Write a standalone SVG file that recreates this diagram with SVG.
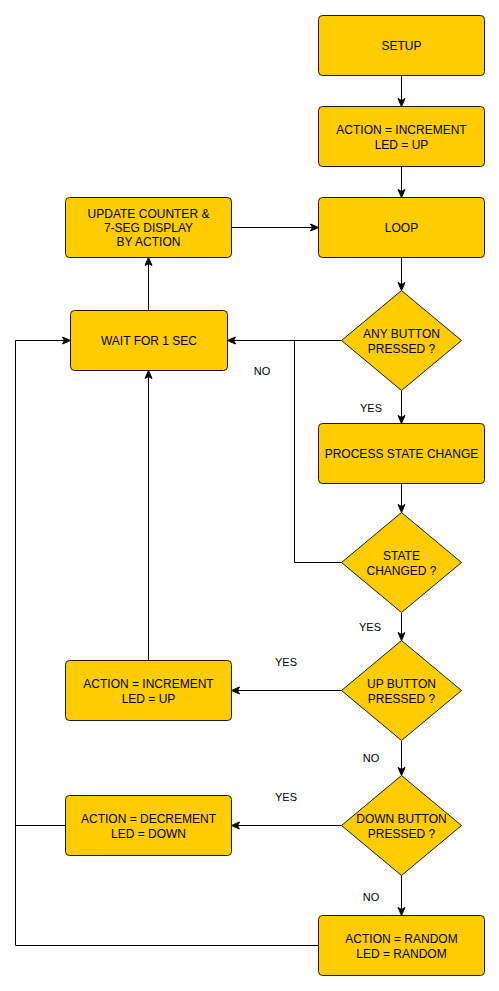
<svg xmlns="http://www.w3.org/2000/svg" width="499" height="991" viewBox="0 0 499 991">
<style>
.n{fill:#FFCC00;stroke:#1a1a1a;stroke-width:1}
.t{font-family:"Liberation Sans",Arial,sans-serif;font-size:12px;fill:#000;text-anchor:middle}
.l{font-family:"Liberation Sans",Arial,sans-serif;font-size:11px;fill:#000;text-anchor:middle}
.e{fill:none;stroke:#000;stroke-width:1}
</style>
<defs>
<marker id="a" markerUnits="userSpaceOnUse" markerWidth="10" markerHeight="10" refX="9" refY="5" orient="auto">
<path d="M1,1.5 L9,5 L1,8.5 L3,5 Z" fill="#000" stroke="#000" stroke-width="1"/>
</marker>
</defs>
<rect width="499" height="991" fill="#fff"/>
<g id="connectors">
<path class="e" d="M401.5,75.5 V106.5" marker-end="url(#a)"/>
<path class="e" d="M401.5,166.5 V197.5" marker-end="url(#a)"/>
<path class="e" d="M401.5,257.5 V290.5" marker-end="url(#a)"/>
<path class="e" d="M341.5,340.5 H227.5" marker-end="url(#a)"/>
<path class="e" d="M401.5,390.5 V423.5" marker-end="url(#a)"/>
<path class="e" d="M401.5,483.5 V512.5" marker-end="url(#a)"/>
<path class="e" d="M341.5,562.5 H294.5 V340.5"/>
<path class="e" d="M401.5,612.5 V640.5" marker-end="url(#a)"/>
<path class="e" d="M341.5,690.5 H231.5" marker-end="url(#a)"/>
<path class="e" d="M148.5,660.5 V370.5" marker-end="url(#a)"/>
<path class="e" d="M148.5,310.5 V257.5" marker-end="url(#a)"/>
<path class="e" d="M231.5,227.5 H318.5" marker-end="url(#a)"/>
<path class="e" d="M401.5,740.5 V775.5" marker-end="url(#a)"/>
<path class="e" d="M341.5,825.5 H231.5" marker-end="url(#a)"/>
<path class="e" d="M65.5,825.5 H15.5"/>
<path class="e" d="M401.5,875.5 V915.5" marker-end="url(#a)"/>
<path class="e" d="M318.5,945.5 H15.5 V340.5 H70.5" marker-end="url(#a)"/>
<text class="l" x="262" y="375">NO</text>
<text class="l" x="371" y="412">YES</text>
<text class="l" x="370" y="631">YES</text>
<text class="l" x="286" y="666">YES</text>
<text class="l" x="371" y="762">NO</text>
<text class="l" x="286" y="801">YES</text>
<text class="l" x="371" y="901">NO</text>
</g>
<g id="setup">
<rect class="n" x="318.5" y="15.5" width="166" height="60" rx="4"/>
<text class="t" x="401.5" y="50">SETUP</text>
</g>
<g id="init">
<rect class="n" x="318.5" y="106.5" width="166" height="60" rx="4"/>
<text class="t" x="401.5" y="133.8">ACTION = INCREMENT</text>
<text class="t" x="401.5" y="148.8">LED = UP</text>
</g>
<g id="loop">
<rect class="n" x="318.5" y="197.5" width="166" height="60" rx="4"/>
<text class="t" x="401.5" y="231.8">LOOP</text>
</g>
<g id="update">
<rect class="n" x="65.5" y="197.5" width="166" height="60" rx="4"/>
<text class="t" x="148.5" y="217.6">UPDATE COUNTER &amp;</text>
<text class="t" x="148.5" y="232">7-SEG DISPLAY</text>
<text class="t" x="148.5" y="246.4">BY ACTION</text>
</g>
<g id="wait">
<rect class="n" x="70.5" y="310.5" width="157" height="60" rx="4"/>
<text class="t" x="149" y="344.8">WAIT FOR 1 SEC</text>
</g>
<g id="anybutton">
<path class="n" d="M401.5,290.5 L461.5,340.5 L401.5,390.5 L341.5,340.5 Z"/>
<text class="t" x="401.5" y="337.6">ANY BUTTON</text>
<text class="t" x="401.5" y="352.8">PRESSED ?</text>
</g>
<g id="process">
<rect class="n" x="318.5" y="423.5" width="166" height="60" rx="4"/>
<text class="t" x="401.5" y="457.8">PROCESS STATE CHANGE</text>
</g>
<g id="statechanged">
<path class="n" d="M401.5,512.5 L461.5,562.5 L401.5,612.5 L341.5,562.5 Z"/>
<text class="t" x="401.5" y="559.6">STATE</text>
<text class="t" x="401.5" y="574.8">CHANGED ?</text>
</g>
<g id="upbutton">
<path class="n" d="M401.5,640.5 L461.5,690.5 L401.5,740.5 L341.5,690.5 Z"/>
<text class="t" x="401.5" y="687.6">UP BUTTON</text>
<text class="t" x="401.5" y="702.8">PRESSED ?</text>
</g>
<g id="increment">
<rect class="n" x="65.5" y="660.5" width="166" height="60" rx="4"/>
<text class="t" x="148.5" y="687.8">ACTION = INCREMENT</text>
<text class="t" x="148.5" y="702.8">LED = UP</text>
</g>
<g id="downbutton">
<path class="n" d="M401.5,775.5 L461.5,825.5 L401.5,875.5 L341.5,825.5 Z"/>
<text class="t" x="401.5" y="822.6">DOWN BUTTON</text>
<text class="t" x="401.5" y="837.8">PRESSED ?</text>
</g>
<g id="decrement">
<rect class="n" x="65.5" y="795.5" width="166" height="60" rx="4"/>
<text class="t" x="148.5" y="822.8">ACTION = DECREMENT</text>
<text class="t" x="148.5" y="837.8">LED = DOWN</text>
</g>
<g id="random">
<rect class="n" x="318.5" y="915.5" width="166" height="60" rx="4"/>
<text class="t" x="401.5" y="942.8">ACTION = RANDOM</text>
<text class="t" x="401.5" y="957.8">LED = RANDOM</text>
</g>
</svg>
